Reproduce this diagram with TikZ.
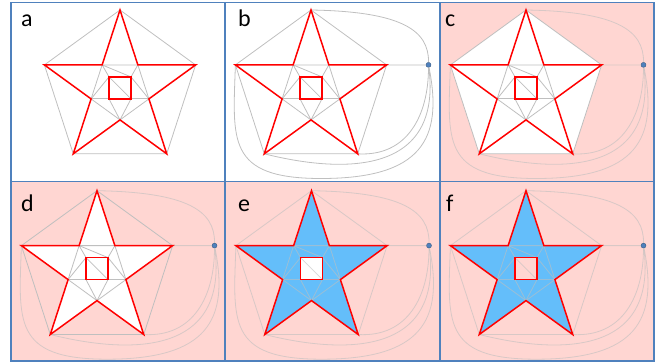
\documentclass[tikz,border=0pt]{standalone}
\usepackage{fontspec}
\setmainfont{Carlito}

\definecolor{frameblue}{RGB}{79,129,189}
\definecolor{panelpink}{RGB}{255,214,210}
\definecolor{starblue}{RGB}{100,190,250}

% corner points of one star graph, centred at (#2,#3)
\newcommand{\starpoints}[3]{%
  \begin{scope}[shift={(#2,#3)}]
    \coordinate (#1t)  at (-90:79.5);
    \coordinate (#1r)  at (-18:79.5);
    \coordinate (#1br) at (54:79.5);
    \coordinate (#1bl) at (126:79.5);
    \coordinate (#1l)  at (198:79.5);
    \coordinate (#1ur) at (-54:30.4);
    \coordinate (#1ri) at (18:30.4);
    \coordinate (#1bi) at (90:30.4);
    \coordinate (#1li) at (162:30.4);
    \coordinate (#1ul) at (234:30.4);
    \coordinate (#1s1) at (-11,-12.6);
    \coordinate (#1s2) at (11,-12.6);
    \coordinate (#1s3) at (11,9.4);
    \coordinate (#1s4) at (-11,9.4);
    \coordinate (#1h)  at (117.5,-24.6);
  \end{scope}}

% grey edges, red star and red square
\newcommand{\stargraph}[2][]{%
  \begin{scope}[link,#1]
    \draw (#2t) -- (#2r) -- (#2br) -- (#2bl) -- (#2l) -- cycle;
    \draw (#2ul) -- (#2ur) -- (#2ri) -- (#2bi) -- (#2li) -- cycle;
    \draw (#2li) -- (#2ri);
    \draw (#2ul) -- (#2s1) (#2ul) -- (#2s2) (#2ur) -- (#2s2);
    \draw (#2li) -- (#2s1) (#2ri) -- (#2s2);
    \draw (#2bi) -- (#2s4) (#2bi) -- (#2s3) (#2s1) -- (#2s3);
  \end{scope}
  \draw[starline] (#2t) -- (#2ur) -- (#2r) -- (#2ri) -- (#2br) -- (#2bi)
    -- (#2bl) -- (#2li) -- (#2l) -- (#2ul) -- cycle;
  \draw[starline] (#2s1) rectangle (#2s3);}

% outer vertex and its links
\newcommand{\hubcurves}[2][]{%
  \node[hub] (#2hub) at (#2h) {};
  \begin{scope}[link,#1]
    \draw (#2hub) -- (#2r);
    \draw (#2hub) .. controls +(0.5,-35) and +(90,1.5) .. (#2t);
    \draw (#2hub) .. controls +(0,50) and +(50,3) .. (#2br);
    \draw (#2hub) .. controls +(14,110) and +(80,20) .. (#2bl);
    \draw (#2hub) .. controls +(15,75) and +(100,0) .. ++(-107.5,113.6)
      .. controls +(-95,0) and +(-2.4,75) .. (#2l);
  \end{scope}}

\begin{document}
\begin{tikzpicture}[x=1pt,y=-1pt,
  panel/.style={draw=frameblue,line width=1.2pt},
  link/.style={gray!50,line width=0.8pt},
  faint/.style={opacity=0.6},
  starline/.style={red,line width=1.5pt},
  hub/.style={circle,fill=frameblue,draw=frameblue!70!black,line width=0.4pt,
    inner sep=0pt,minimum size=5pt},
  tag/.style={anchor=base west,inner sep=0pt,font=\fontsize{24}{24}\selectfont}
]
  \useasboundingbox (0,0) rectangle (667,364);

  % pink backgrounds
  \fill[panelpink] (440,2.7) rectangle (654,181.7);
  \fill[panelpink] (11,181.7) rectangle (654,361);

  \starpoints{a}{120}{89.5}
  \starpoints{b}{311}{89.5}
  \starpoints{c}{526}{89.5}
  \starpoints{d}{97}{270.2}
  \starpoints{e}{311.5}{270.2}
  \starpoints{f}{526}{270.2}

  % regions
  \fill[white] (ct) -- (cr) -- (cbr) -- (cbl) -- (cl) -- cycle;
  \fill[white] (dt) -- (dur) -- (dr) -- (dri) -- (dbr) -- (dbi) -- (dbl)
    -- (dli) -- (dl) -- (dul) -- cycle;
  \fill[starblue] (et) -- (eur) -- (er) -- (eri) -- (ebr) -- (ebi) -- (ebl)
    -- (eli) -- (el) -- (eul) -- cycle;
  \fill[white] (es1) rectangle (es3);
  \fill[starblue] (ft) -- (fur) -- (fr) -- (fri) -- (fbr) -- (fbi) -- (fbl)
    -- (fli) -- (fl) -- (ful) -- cycle;
  \fill[panelpink] (fs1) rectangle (fs3);

  \stargraph{a}
  \hubcurves{b}
  \stargraph{b}
  \hubcurves[faint]{c}
  \stargraph{c}
  \hubcurves[faint]{d}
  \stargraph{d}
  \hubcurves[faint]{e}
  \stargraph[faint]{e}
  \hubcurves[faint]{f}
  \stargraph[faint]{f}

  % frames
  \draw[panel] (11,2.7) rectangle (225,181.7);
  \draw[panel] (225,2.7) rectangle (440,181.7);
  \draw[panel] (440,2.7) rectangle (654,181.7);
  \draw[panel] (11,181.7) rectangle (225,361);
  \draw[panel] (225,181.7) rectangle (440,361);
  \draw[panel] (440,181.7) rectangle (654,361);

  \node[tag] (lab-a) at (21,27) {a};
  \node[tag] (lab-b) at (238,27) {b};
  \node[tag] (lab-c) at (445,27) {c};
  \node[tag] (lab-d) at (21,211) {d};
  \node[tag] (lab-e) at (238,211) {e};
  \node[tag] (lab-f) at (446,211) {f};
\end{tikzpicture}
\end{document}
